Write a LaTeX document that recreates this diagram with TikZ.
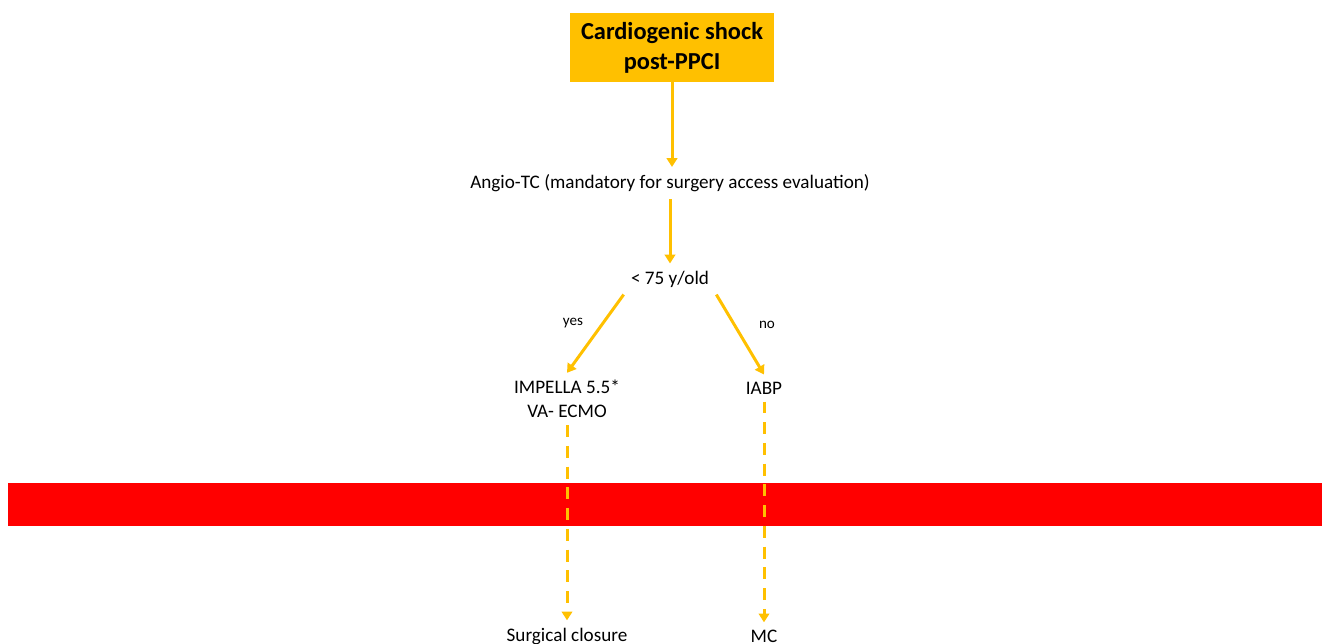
\documentclass[tikz,border=0pt]{standalone}
\usepackage{fontspec}
\setmainfont{Carlito}
\usetikzlibrary{shapes}
\usetikzlibrary{arrows.meta}
\definecolor{gold}{HTML}{FFC000}
\definecolor{band}{HTML}{FF0000}
\tikzset{
	txt/.style={font=\fontsize{10.9}{13.6}\selectfont,inner sep=4pt,align=center},
	lbl/.style={font=\fontsize{8.6}{10}\selectfont,inner sep=0pt},
	arr/.style={draw=gold,line width=1.7pt,-{Triangle[length=5pt,width=6pt]}},
	darr/.style={arr,dash pattern=on 6.8pt off 5pt}
}

\begin{document}
\begin{tikzpicture}[x=0.02cm,y=-0.02cm]
				\useasboundingbox (0,0) rectangle (1322,644);
				\fill[band] (8,483) rectangle (1322,526);
				\node[fill=gold,minimum width=4.1cm,minimum height=1.38cm,align=center,font=\fontsize{13.9}{17}\selectfont\bfseries] (shock) at (672,47.5) {Cardiogenic shock\\post-PPCI};
				\node[txt] (angio) at (670,183) {Angio-TC (mandatory for surgery access evaluation)};
				\node[txt] (age) at (670,279) {< 75 y/old};
				\node[txt] (impella) at (567,399) {IMPELLA 5.5*\\VA- ECMO};
				\node[txt] (iabp) at (764,388) {IABP};
				\node[txt] (closure) at (567,636) {Surgical closure};
				\node[txt] (mc) at (764,636) {MC};
				\node[lbl] (yes) at (573,323) {yes};
				\node[lbl] (no) at (767,325) {no};
				\draw[arr] (shock.south -| 672,0) -- (angio.north -| 672,0);
				\draw[arr] (angio.south) -- (age.north);
				\draw[arr] (age.south west) -- (impella.north);
				\draw[arr] (age.south east) -- (iabp.north);
				\draw[darr] (impella.south) -- (closure.north);
				\draw[darr] (iabp.south) -- (mc.north);
\end{tikzpicture}
\end{document}
